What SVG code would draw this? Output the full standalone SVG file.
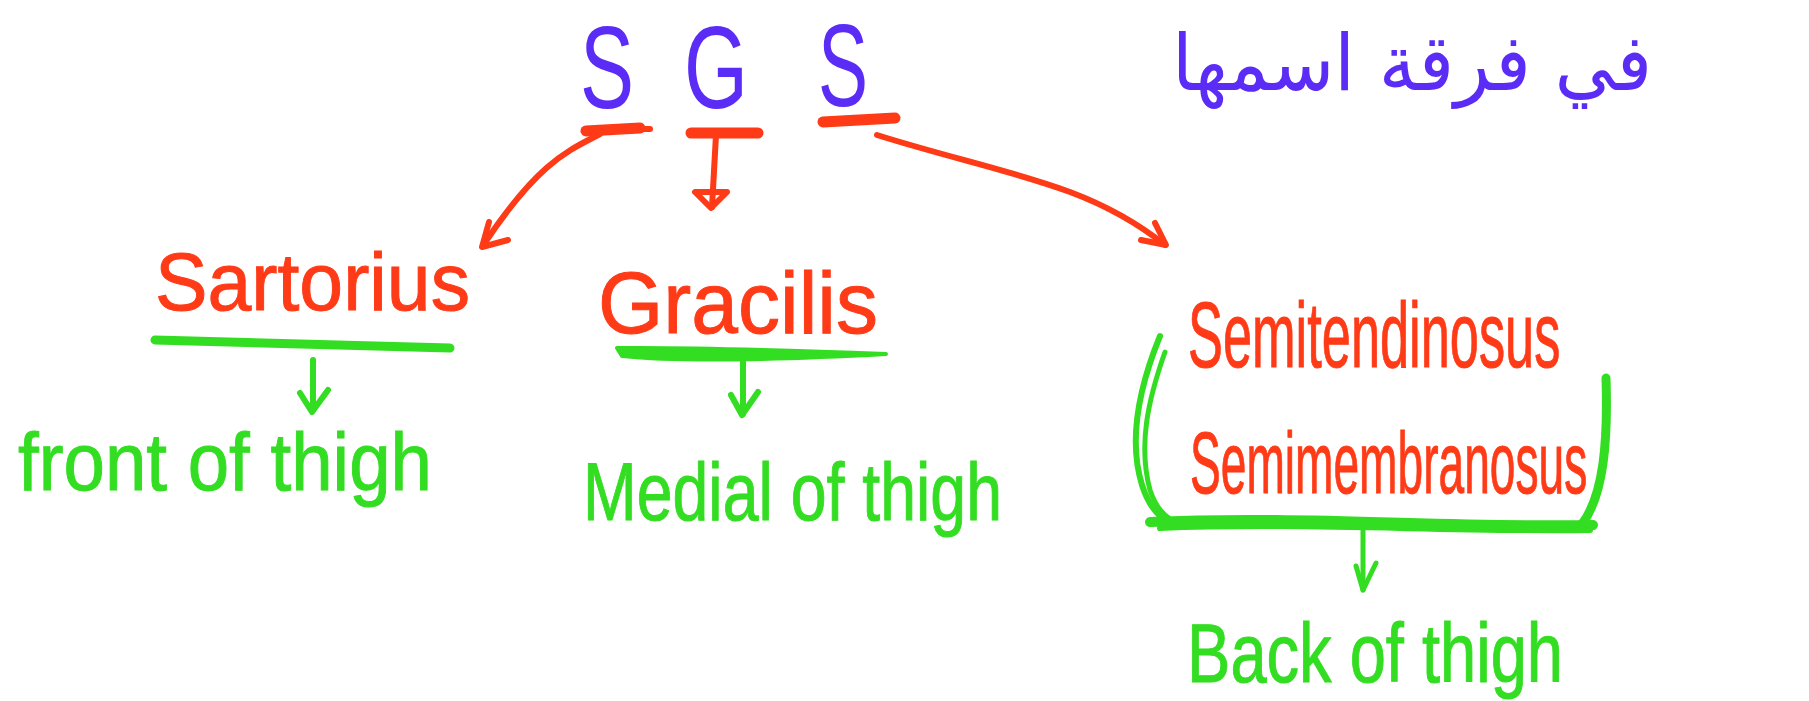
<svg xmlns="http://www.w3.org/2000/svg" width="1809" height="701" viewBox="0 0 1809 701">
<style>
.t{font-family:"Liberation Sans","DejaVu Sans",sans-serif;}
.blue{fill:#5a2cf5;}
.red{fill:#ff3a16;stroke:#ff3a16;stroke-width:1;}
.green{fill:#33dd22;stroke:#33dd22;stroke-width:1;}
.rl{fill:none;stroke:#ff3a16;stroke-linecap:round;stroke-linejoin:round;}
.gl{fill:none;stroke:#33dd22;stroke-linecap:round;stroke-linejoin:round;}
</style>
<rect width="1809" height="701" fill="#ffffff"/>
<g id="sgs">
<text class="t blue" x="580" y="108" font-size="116" textLength="54" lengthAdjust="spacingAndGlyphs">S</text>
<text class="t blue" x="684" y="108" font-size="116" textLength="64" lengthAdjust="spacingAndGlyphs">G</text>
<text class="t blue" x="818" y="106" font-size="116" textLength="50" lengthAdjust="spacingAndGlyphs">S</text>
</g>
<g id="arabic-note">
<text class="blue" x="1412" y="90" font-size="78" text-anchor="middle" direction="rtl" textLength="480" lengthAdjust="spacingAndGlyphs" style="font-family:'DejaVu Sans','Noto Sans',sans-serif">في فرقة اسمها</text>
</g>
<g id="sartorius">
<text class="t red" x="155" y="310" font-size="82" textLength="315" lengthAdjust="spacingAndGlyphs">Sartorius</text>
</g>
<g id="gracilis">
<text class="t red" x="598" y="333" font-size="88" textLength="280" lengthAdjust="spacingAndGlyphs">Gracilis</text>
</g>
<g id="semitendinosus">
<text class="t red" transform="translate(1188,367) scale(0.569,1)" font-size="92">Semitendinosus</text>
</g>
<g id="semimembranosus">
<text class="t red" transform="translate(1190,493) scale(0.524,1)" font-size="88">Semimembranosus</text>
</g>
<g id="front-of-thigh">
<text class="t green" x="18" y="490" font-size="82" textLength="414" lengthAdjust="spacingAndGlyphs">front of thigh</text>
</g>
<g id="medial-of-thigh">
<text class="t green" x="583" y="520" font-size="82" textLength="419" lengthAdjust="spacingAndGlyphs">Medial  of thigh</text>
</g>
<g id="back-of-thigh">
<text class="t green" x="1187" y="682" font-size="84" textLength="376" lengthAdjust="spacingAndGlyphs">Back of thigh</text>
</g>
<g id="connectors">
<path class="rl" stroke-width="11" d="M586 131 L640 128"/>
<path class="rl" stroke-width="6" d="M640 129 L650 129"/>
<path class="rl" stroke-width="11" d="M691 133 L758 133"/>
<path class="rl" stroke-width="11" d="M823 122 L895 118"/>
<path class="rl" stroke-width="6" d="M600 134 C570 150,540 160,484 244"/>
<path class="rl" stroke-width="6" d="M489 222 L482 247 L508 240"/>
<path class="rl" stroke-width="6" d="M716 135 L712 207"/>
<path class="rl" stroke-width="6" d="M695 192 L727 192 L711 208 Z"/>
<path class="rl" stroke-width="6" d="M877 135 C950 158,1010 170,1070 192 C1110 207,1140 225,1165 245"/>
<path class="rl" stroke-width="6" d="M1141 240 L1166 245 L1155 223"/>
<path class="gl" stroke-width="9" d="M155 340 C250 343,350 345,450 348"/>
<path class="gl" stroke-width="6" d="M313 360 L313 410"/>
<path class="gl" stroke-width="6" d="M300 393 L312 412 L328 390"/>
<path fill="#33dd22" stroke="#33dd22" stroke-width="4" stroke-linejoin="round" d="M617 348 Q700 347 886 354 Q700 364 622 356 Z"/>
<path class="gl" stroke-width="6" d="M743 360 L743 414"/>
<path class="gl" stroke-width="6" d="M731 395 L742 415 L758 392"/>
<path class="gl" stroke-width="6" d="M1160 336 C1140 385,1128 440,1142 485 C1150 510,1165 528,1190 526"/>
<path class="gl" stroke-width="5" d="M1165 352 C1148 400,1138 445,1150 490 C1158 515,1175 530,1210 525"/>
<path class="gl" stroke-width="10" d="M1150 522 C1300 515,1450 528,1593 525"/>
<path class="gl" stroke-width="6" d="M1160 528 C1300 522,1450 532,1590 530"/>
<path class="gl" stroke-width="9" d="M1606 378 C1608 440,1604 495,1582 524"/>
<path class="gl" stroke-width="5" d="M1363 530 L1363 590"/>
<path class="gl" stroke-width="5" d="M1356 566 L1363 590 L1376 563"/>
</g>
</svg>
